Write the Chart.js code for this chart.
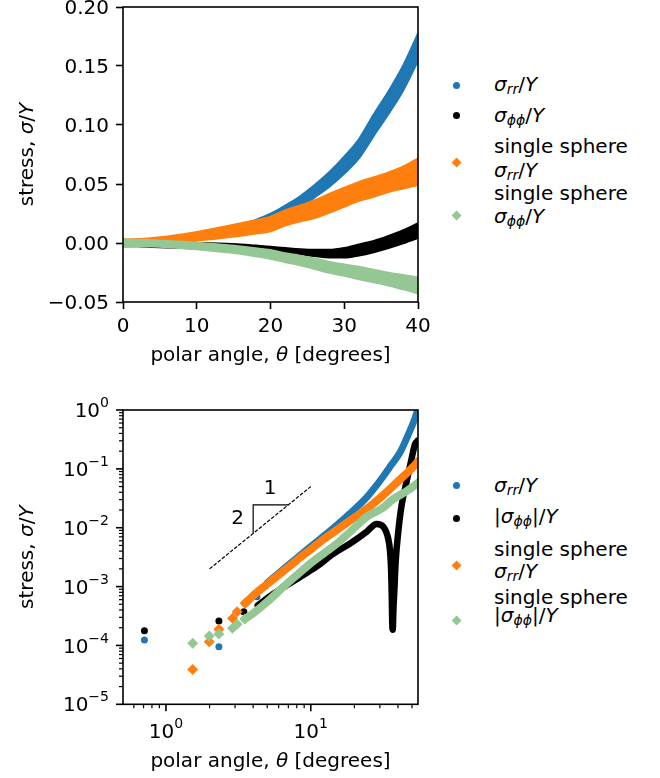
<!DOCTYPE html>
<html>
<head>
<meta charset="utf-8">
<script src="https://cdn.jsdelivr.net/npm/chart.js@4.4.1/dist/chart.umd.min.js"></script>
<style>
  body { margin: 0; background: #fff; width: 660px; height: 778px; position: relative; overflow: hidden; font-family: "DejaVu Sans"; }
  canvas { position: absolute; left: 0; }
  .lg { position: absolute; left: 494px; font-size: 20px; line-height: 20px; white-space: nowrap; color: #000; }
  .lg sub { font-size: 14px; vertical-align: -3px; line-height: 0; }
  .mk { position: absolute; }
</style>
</head>
<body>
<canvas id="topChart" width="440" height="380" style="top:0"></canvas>
<canvas id="botChart" width="440" height="398" style="top:380px"></canvas>
<div id="legends"></div>
<script>
// colours
const C_BLUE = '#1f77b4', C_BLACK = '#000000', C_ORANGE = '#ff7f0e', C_GREEN = '#95c794';

const thetaTop = [0, 2, 4, 6, 8, 10, 12, 14, 16, 18, 20, 22, 24, 26, 28, 30, 32, 34, 36, 38, 40];
const rrHi  = [0.002, 0.0022, 0.0028, 0.0038, 0.005, 0.0065, 0.0088, 0.012, 0.0155, 0.0198, 0.025, 0.032, 0.0398, 0.0495, 0.0605, 0.0735, 0.0885, 0.1095, 0.129, 0.151, 0.178];
const rrLo  = [-0.002, -0.0015, -0.0005, 0.0005, 0.0015, 0.0027, 0.0045, 0.0074, 0.0105, 0.0138, 0.018, 0.024, 0.0302, 0.0385, 0.0475, 0.0585, 0.0715, 0.0905, 0.109, 0.129, 0.154];
const ppHi  = [0.003, 0.0025, 0.002, 0.0015, 0.001, 0.0005, 0.0, -0.0005, -0.001, -0.002, -0.003, -0.004, -0.005, -0.0055, -0.0055, -0.004, -0.001, 0.002, 0.0062, 0.011, 0.017];
const ppLo  = [-0.003, -0.003, -0.0035, -0.004, -0.0045, -0.005, -0.0055, -0.006, -0.0065, -0.0068, -0.0075, -0.0085, -0.0098, -0.0113, -0.0125, -0.0126, -0.0108, -0.008, -0.0045, -0.0005, 0.004];
const ssRrHi = [0.003, 0.0035, 0.0045, 0.0058, 0.0075, 0.0095, 0.0118, 0.0145, 0.017, 0.0195, 0.0225, 0.028, 0.032, 0.0365, 0.042, 0.047, 0.052, 0.056, 0.060, 0.065, 0.072];
const ssRrLo = [-0.003, -0.0025, -0.001, 0.0, 0.001, 0.002, 0.003, 0.0045, 0.006, 0.0078, 0.0098, 0.0145, 0.018, 0.021, 0.0255, 0.0305, 0.0355, 0.039, 0.043, 0.046, 0.049];
const ssPpHi = [0.003, 0.003, 0.0025, 0.002, 0.0013, 0.0005, -0.0005, -0.0015, -0.0028, -0.0042, -0.0058, -0.0085, -0.0105, -0.013, -0.0158, -0.018, -0.020, -0.0225, -0.025, -0.027, -0.029];
const ssPpLo = [-0.003, -0.003, -0.0032, -0.0038, -0.0046, -0.0056, -0.0067, -0.008, -0.0095, -0.0115, -0.0135, -0.0165, -0.019, -0.0222, -0.0255, -0.028, -0.031, -0.0335, -0.0362, -0.0395, -0.043];
const topXTicks = [0, 10, 20, 30, 40];
const topYTicks = [-0.05, 0, 0.05, 0.10, 0.15, 0.20];

// ---- bottom panel: |stress| vs polar angle (log-log)
// isolated points at small angles
const rrPtsTh = [0.71, 2.32, 4.25];
const rrPtsV  = [1.24e-4, 9.5e-5, 6.7e-4];
const ppPtsTh = [0.71, 2.32, 3.45];
const ppPtsV  = [1.78e-4, 2.6e-4, 3.75e-4];
const ssRrPtsTh = [1.53, 1.99, 2.32, 2.88, 3.1, 3.52];
const ssRrPtsV  = [3.9e-5, 1.16e-4, 1.88e-4, 2.9e-4, 3.75e-4, 5.2e-4];
const ssPpPtsTh = [1.53, 1.99, 2.32, 2.88, 3.1, 3.5];
const ssPpPtsV  = [1.09e-4, 1.45e-4, 1.57e-4, 1.95e-4, 2.3e-4, 2.8e-4];
// dense bands (centre lines)
const rrBandTh = [5, 6.5, 8, 10, 12, 14.3, 18.7, 24.4, 28, 31.7, 36, 41.3, 45.9, 49.7, 52.4, 55];
const rrBandV  = [1.15e-3, 2.0e-3, 3.05e-3, 4.8e-3, 6.9e-3, 0.0098, 0.0175, 0.033, 0.050, 0.075, 0.117, 0.19, 0.33, 0.52, 0.72, 1.05];
const ppBandTh = [4.3, 5.5, 7, 9, 11, 14.3, 18.7, 24.4, 28.5, 31.7, 34.2, 35.2, 35.8, 36.1, 36.3, 36.5, 36.8, 37.2, 37.8, 38.5, 40.2, 42.4, 45.9, 49.7, 52.4, 54.5];
const ppBandV  = [4.8e-4, 7.5e-4, 1.1e-3, 1.6e-3, 2.2e-3, 3.6e-3, 5.4e-3, 8.6e-3, 0.0116, 0.0104, 0.0066, 0.0042, 0.0022, 0.0011, 5.5e-4, 2.5e-4, 1.85e-4, 4e-4, 9e-4, 2.5e-3, 8.6e-3, 0.0243, 0.061, 0.15, 0.26, 0.3];
const ssRrBandTh = [3.52, 4.25, 5, 6.5, 8, 10, 12, 14.3, 18.7, 24.4, 31.7, 36, 41.3, 45.9, 49.7, 53.7, 55];
const ssRrBandV  = [5.2e-4, 8e-4, 1.1e-3, 1.85e-3, 2.8e-3, 4.3e-3, 6.1e-3, 8.3e-3, 0.0133, 0.021, 0.036, 0.048, 0.066, 0.084, 0.102, 0.124, 0.135];
const ssPpBandTh = [3.5, 4, 5, 6.5, 8.44, 10, 12.9, 14.3, 18.7, 24.35, 31.7, 36, 41.3, 45.9, 49.7, 53.7, 55];
const ssPpBandV  = [2.8e-4, 3.5e-4, 5.5e-4, 1.0e-3, 1.75e-3, 2.5e-3, 4.0e-3, 4.8e-3, 8.5e-3, 0.0154, 0.022, 0.029, 0.036, 0.042, 0.048, 0.055, 0.058];
// slope guide: theta^2 line and 1:2 triangle
const slopeTh = [2, 10];
const slopeV  = [0.002, 0.05];
const triTh = [4, 4, 7];
const triV  = [0.008, 0.0245, 0.0245];
const slopeLabelTh = [5.24, 3.13];
const slopeLabelV  = [0.0455, 0.0142];
const slopeLabels  = ['1', '2'];
// log ticks
const logXMajor = [1, 10];
const logXMinor = [0.6, 0.7, 0.8, 0.9, 2, 3, 4, 5, 6, 7, 8, 9, 20, 30, 40, 50];
const logYMajor = [1e-5, 1e-4, 1e-3, 1e-2, 1e-1, 1];
const logYMinor = [];
[1e-5, 1e-4, 1e-3, 1e-2, 1e-1].forEach(d => { for (let m = 2; m <= 9; m++) logYMinor.push(m * d); });

const FN = '20px "DejaVu Sans"', FI = 'italic 20px "DejaVu Sans"', FS = '14px "DejaVu Sans"';

const pts = (xs, ys) => xs.map((x, i) => ({ x: x, y: ys[i] }));

// draw a run of differently styled text pieces
function rich(ctx, parts, x, y, align) {
  let w = 0;
  parts.forEach(p => { ctx.font = p[1]; p.w = ctx.measureText(p[0]).width; w += p.w; });
  let cx = align === 'center' ? x - w / 2 : (align === 'right' ? x - w : x);
  parts.forEach(p => { ctx.font = p[1]; ctx.fillText(p[0], cx, y + (p[2] || 0)); cx += p.w; });
}

function expLabel(v) {
  const e = Math.round(Math.log10(v));
  return [['10', FN], [String(e).replace('-', '\u2212'), FS, -10]];
}

// frame, log ticks, axis titles, annotations
const decor = {
  id: 'decor',
  afterDraw(chart, args, o) {
    const ctx = chart.ctx, a = chart.chartArea;
    const xs = chart.scales.x, ys = chart.scales.y;
    ctx.save();
    ctx.fillStyle = '#000';
    ctx.strokeStyle = '#000';
    ctx.textBaseline = 'alphabetic';
    if (o.log) {
      const tick = (x1, y1, x2, y2, w) => { ctx.lineWidth = w; ctx.beginPath(); ctx.moveTo(x1, y1); ctx.lineTo(x2, y2); ctx.stroke(); };
      logXMinor.forEach(v => { const x = xs.getPixelForValue(v); tick(x, a.bottom, x, a.bottom + 4, 1.2); });
      logYMinor.forEach(v => { const y = ys.getPixelForValue(v); tick(a.left, y, a.left - 4, y, 1.2); });
      logXMajor.forEach(v => {
        const x = xs.getPixelForValue(v); tick(x, a.bottom, x, a.bottom + 7, 1.6);
        rich(ctx, expLabel(v), x, a.bottom + 34, 'center');
      });
      logYMajor.forEach(v => {
        const y = ys.getPixelForValue(v); tick(a.left, y, a.left - 7, y, 1.6);
        rich(ctx, expLabel(v), a.left - 14, y + 7.1, 'right');
      });
      ctx.font = FN; ctx.textAlign = 'center'; ctx.textBaseline = 'middle';
      slopeLabels.forEach((t, i) => ctx.fillText(t, xs.getPixelForValue(slopeLabelTh[i]), ys.getPixelForValue(slopeLabelV[i])));
      ctx.textAlign = 'left'; ctx.textBaseline = 'alphabetic';
    }
    ctx.lineWidth = 1.6;
    ctx.strokeRect(a.left, a.top, a.right - a.left, a.bottom - a.top);
    rich(ctx, [['polar angle, ', FN], ['\u03b8', FI], [' [degrees]', FN]], (a.left + a.right) / 2, o.xTitleY, 'center');
    ctx.translate(33, (a.top + a.bottom) / 2);
    ctx.rotate(-Math.PI / 2);
    rich(ctx, [['stress, ', FN], ['\u03c3', FI], ['/', FN], ['Y', FI]], 0, 0, 'center');
    ctx.restore();
  }
};

function band(lo, hi, color, ord) {
  const common = { borderColor: color, borderWidth: 1.5, pointRadius: 0, cubicInterpolationMode: 'monotone', order: ord, clip: 0 };
  return [
    { ...common, data: pts(thetaTop, hi), fill: false },
    { ...common, data: pts(thetaTop, lo), backgroundColor: color, fill: '-1' }
  ];
}

const tickFont = { family: 'DejaVu Sans', size: 20 };
const noPadX = s => { s.paddingLeft = 0; s.paddingRight = 0; };
const noPadY = s => { s.paddingTop = 0; s.paddingBottom = 0; };

new Chart(document.getElementById('topChart'), {
  type: 'line',
  data: {
    datasets: [
      ...band(ssPpLo, ssPpHi, C_GREEN, 0),
      ...band(ssRrLo, ssRrHi, C_ORANGE, 1),
      ...band(ppLo, ppHi, C_BLACK, 2),
      ...band(rrLo, rrHi, C_BLUE, 3)
    ]
  },
  options: {
    responsive: false,
    animation: false,
    events: [],
    layout: { autoPadding: false, padding: { left: 0, top: 7, right: 22, bottom: 0 } },
    plugins: { legend: { display: false }, tooltip: { enabled: false }, decor: { log: false, xTitleY: 361 } },
    scales: {
      x: {
        type: 'linear', min: 0, max: 40,
        afterFit: s => { s.height = 78; noPadX(s); },
        afterBuildTicks: s => { s.ticks = topXTicks.map(v => ({ value: v })); },
        ticks: { font: tickFont, color: '#000', padding: 6, maxRotation: 0, autoSkip: false },
        grid: { drawOnChartArea: false, tickLength: 7, tickWidth: 1.6, tickColor: '#000' },
        border: { display: false }
      },
      y: {
        type: 'linear', min: -0.05, max: 0.2,
        afterFit: s => { s.width = 123; noPadY(s); },
        afterBuildTicks: s => { s.ticks = topYTicks.map(v => ({ value: v })); },
        ticks: { font: tickFont, color: '#000', padding: 7, labelOffset: 1.5, autoSkip: false,
          callback: v => (Math.abs(v) < 1e-9 ? 0 : v).toFixed(2).replace('-', '\u2212') },
        grid: { drawOnChartArea: false, tickLength: 7, tickWidth: 1.6, tickColor: '#000' },
        border: { display: false }
      }
    }
  },
  plugins: [decor]
});

function bandLine(xs, ys, color, width, ord) {
  return { data: pts(xs, ys), borderColor: color, borderWidth: width, borderCapStyle: 'round', borderJoinStyle: 'round',
           cubicInterpolationMode: 'monotone', pointRadius: 0, fill: false, order: ord, clip: 0 };
}
function scatter(xs, ys, color, style, r, ord) {
  return { data: pts(xs, ys), showLine: false, pointStyle: style, pointRadius: r, pointBackgroundColor: color,
           pointBorderColor: color, pointBorderWidth: 0, order: ord, clip: 0 };
}

new Chart(document.getElementById('botChart'), {
  type: 'line',
  data: {
    datasets: [
      { data: pts(slopeTh, slopeV), borderColor: '#000', borderWidth: 1.2, borderDash: [3.7, 1.6], pointRadius: 0, order: 0 },
      { data: pts(triTh, triV), borderColor: '#000', borderWidth: 1.2, pointRadius: 0, order: 0 },
      bandLine(ssPpBandTh, ssPpBandV, C_GREEN, 8, 1),
      scatter(ssPpPtsTh, ssPpPtsV, C_GREEN, 'rectRot', 5.5, 1),
      bandLine(ssRrBandTh, ssRrBandV, C_ORANGE, 8, 2),
      scatter(ssRrPtsTh, ssRrPtsV, C_ORANGE, 'rectRot', 5.5, 2),
      bandLine(ppBandTh, ppBandV, C_BLACK, 6.5, 3),
      scatter(ppPtsTh, ppPtsV, C_BLACK, 'circle', 3.5, 3),
      bandLine(rrBandTh, rrBandV, C_BLUE, 7, 4),
      scatter(rrPtsTh, rrPtsV, C_BLUE, 'circle', 3.5, 4)
    ]
  },
  options: {
    responsive: false,
    animation: false,
    events: [],
    layout: { autoPadding: false, padding: { left: 0, top: 30, right: 22, bottom: 0 } },
    plugins: { legend: { display: false }, tooltip: { enabled: false }, decor: { log: true, xTitleY: 387 } },
    scales: {
      x: {
        type: 'logarithmic', min: 0.505, max: 55,
        afterFit: s => { s.height = 73.7; noPadX(s); },
        ticks: { display: false },
        grid: { display: false },
        border: { display: false }
      },
      y: {
        type: 'logarithmic', min: 1e-5, max: 1,
        afterFit: s => { s.width = 123; noPadY(s); },
        ticks: { display: false },
        grid: { display: false },
        border: { display: false }
      }
    }
  },
  plugins: [decor]
});

// legends (html, so the subscripts stay real text)
const RR = '<i>\u03c3<sub>rr</sub></i>/<i>Y</i>';
const PP = '<i>\u03c3<sub>\u03d5\u03d5</sub></i>/<i>Y</i>';
const APP = '|<i>\u03c3<sub>\u03d5\u03d5</sub></i>|/<i>Y</i>';
const legendItems = [
  { shape: 'circle', color: C_BLUE, y: 85, lines: [[90.7, RR]] },
  { shape: 'circle', color: C_BLACK, y: 115, lines: [[121.7, PP]] },
  { shape: 'diamond', color: C_ORANGE, y: 162.7, lines: [[152.7, 'single sphere'], [176.7, RR]] },
  { shape: 'diamond', color: C_GREEN, y: 215.7, lines: [[200, 'single sphere'], [223.3, PP]] },
  { shape: 'circle', color: C_BLUE, y: 485, lines: [[491.7, RR]] },
  { shape: 'circle', color: C_BLACK, y: 518.3, lines: [[523.3, APP]] },
  { shape: 'diamond', color: C_ORANGE, y: 565.7, lines: [[556, 'single sphere'], [578.3, RR]] },
  { shape: 'diamond', color: C_GREEN, y: 620.7, lines: [[603.5, 'single sphere'], [621.7, APP]] }
];
const host = document.getElementById('legends');
legendItems.forEach(it => {
  const m = document.createElement('div');
  m.className = 'mk';
  if (it.shape === 'circle') {
    m.style.cssText = `left:${456.7 - 3.5}px;top:${it.y - 3.5}px;width:7px;height:7px;border-radius:50%;background:${it.color}`;
  } else {
    m.style.cssText = `left:${456.7 - 3.6}px;top:${it.y - 3.6}px;width:7.2px;height:7.2px;transform:rotate(45deg);background:${it.color}`;
  }
  host.appendChild(m);
  it.lines.forEach(l => {
    const d = document.createElement('div');
    d.className = 'lg';
    d.style.top = (l[0] - 17) + 'px';
    d.innerHTML = l[1];
    host.appendChild(d);
  });
});
</script>
</body>
</html>
